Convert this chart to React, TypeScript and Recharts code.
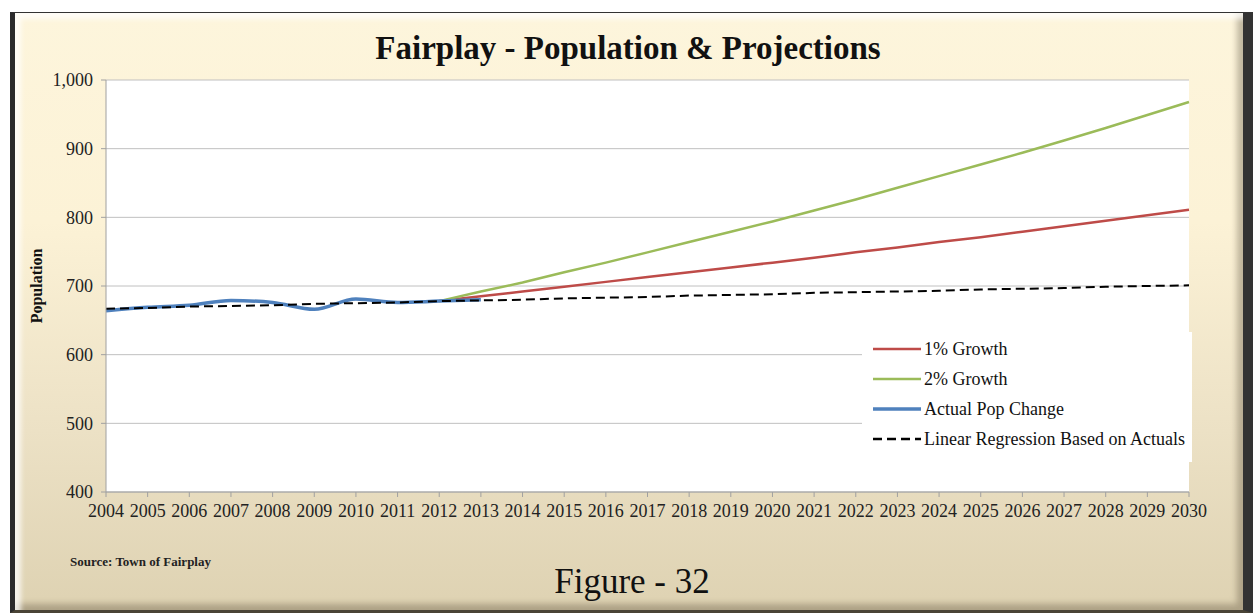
import React from 'react'
import { LineChart, Line, XAxis, YAxis, CartesianGrid } from 'recharts'

const years = [
  '2004', '2005', '2006', '2007', '2008', '2009', '2010', '2011', '2012', '2013',
  '2014', '2015', '2016', '2017', '2018', '2019', '2020', '2021', '2022', '2023',
  '2024', '2025', '2026', '2027', '2028', '2029', '2030',
]

// actual counts, 2004-2013
const actualPop = [664, 669, 672, 679, 676, 666, 681, 676, 678, 680]

// projections start from 2012
const growth1 = [678, 685, 692, 699, 706, 713, 720, 727, 734, 741, 749, 756, 764, 771, 779, 787, 795, 803, 811]
const growth2 = [678, 692, 705, 720, 734, 749, 764, 779, 794, 810, 826, 843, 860, 877, 894, 912, 930, 949, 968]

const regression = [
  667, 668, 670, 671, 672, 674, 675, 676, 678, 679, 680, 682, 683, 684,
  686, 687, 688, 690, 691, 692, 693, 695, 696, 697, 699, 700, 701,
]

const yTicks = [400, 500, 600, 700, 800, 900, 1000]

const projStart = years.indexOf('2012')

const data = years.map((year, i) => ({
  year,
  growth1: i >= projStart ? growth1[i - projStart] : null,
  growth2: i >= projStart ? growth2[i - projStart] : null,
  actual: i < actualPop.length ? actualPop[i] : null,
  regression: regression[i],
}))

const serif = '"Liberation Serif", "Times New Roman", serif'

const legendItems = [
  { label: '1% Growth', color: '#be4b48', dash: undefined, width: 2.5 },
  { label: '2% Growth', color: '#9bbb59', dash: undefined, width: 2.5 },
  { label: 'Actual Pop Change', color: '#4f81bd', dash: undefined, width: 3.5 },
  { label: 'Linear Regression Based on Actuals', color: '#000', dash: '9 5', width: 2.5 },
]

function LegendBox() {
  return (
    <div
      style={{
        position: 'absolute', left: 862, top: 332, width: 330, height: 130,
        background: '#fff', paddingTop: 2, fontFamily: serif, boxSizing: 'border-box',
      }}
    >
      {legendItems.map((it) => (
        <div key={it.label} style={{ display: 'flex', alignItems: 'center', height: 30 }}>
          <svg width={48} height={10} style={{ marginLeft: 11 }}>
            <line x1={0} y1={5} x2={48} y2={5} stroke={it.color} strokeWidth={it.width} strokeDasharray={it.dash} />
          </svg>
          <span style={{ fontSize: 18, color: '#111', marginLeft: 3 }}>{it.label}</span>
        </div>
      ))}
    </div>
  )
}

export default function App() {
  return (
    <div style={{ position: 'absolute', left: 0, top: 0, width: 1253, height: 616, background: '#fff', overflow: 'hidden' }}>
      <div
        style={{
          position: 'absolute',
          left: 10,
          top: 12,
          width: 1243,
          height: 601,
          boxSizing: 'border-box',
          borderTop: '1px solid #333',
          borderLeft: '5px solid #2b2b2b',
          borderRight: '10px solid #333',
          borderBottom: '3px solid #4a4436',
          background: 'linear-gradient(180deg, #fdf5dc 0%, #fcf2d6 35%, #ece1c5 70%, #ded2b2 100%)',
          boxShadow: 'inset 6px 6px 5px rgba(255,255,255,0.75), inset -6px -6px 6px rgba(80,70,50,0.35)',
        }}
      />
      <div
        style={{
          position: 'absolute', left: 0, top: 30, width: 1256, textAlign: 'center',
          fontFamily: serif, fontWeight: 'bold', fontSize: 33, color: '#111',
        }}
      >
        Fairplay - Population &amp; Projections
      </div>
      <div
        style={{
          position: 'absolute', left: 37, top: 286, transform: 'translate(-50%, -50%) rotate(-90deg)',
          fontFamily: serif, fontWeight: 'bold', fontSize: 16, color: '#111', whiteSpace: 'nowrap',
        }}
      >
        Population
      </div>
      <div style={{ position: 'absolute', left: 0, top: 0 }}>
        <LineChart width={1253} height={616} data={data} margin={{ top: 80, right: 64, left: 46, bottom: 94 }}>
          <CartesianGrid vertical={false} stroke="#c0c0c0" fill="#fff" />
          <XAxis
            dataKey="year"
            interval={0}
            height={30}
            tickSize={5}
            tickMargin={7}
            stroke="#a0a0a0"
            tick={{ fill: '#222', fontSize: 18, fontFamily: serif }}
          />
          <YAxis
            domain={[400, 1000]}
            ticks={yTicks}
            width={60}
            tickSize={5}
            tickMargin={8}
            stroke="#a0a0a0"
            tick={{ fill: '#222', fontSize: 18, fontFamily: serif }}
            tickFormatter={(v: number) => v.toLocaleString('en-US')}
          />
          <Line dataKey="growth1" stroke="#be4b48" strokeWidth={2.5} dot={false} isAnimationActive={false} />
          <Line dataKey="growth2" stroke="#9bbb59" strokeWidth={2.5} dot={false} isAnimationActive={false} />
          <Line type="monotone" dataKey="actual" stroke="#4f81bd" strokeWidth={3.5} dot={false} isAnimationActive={false} />
          <Line dataKey="regression" stroke="#000" strokeWidth={2} strokeDasharray="9 5" dot={false} isAnimationActive={false} />
        </LineChart>
      </div>
      <LegendBox />
      <div
        style={{
          position: 'absolute', left: 70, top: 554, fontFamily: serif, fontWeight: 'bold',
          fontSize: 13, color: '#222',
        }}
      >
        Source: Town of Fairplay
      </div>
      <div
        style={{
          position: 'absolute', left: 0, top: 562, width: 1264, textAlign: 'center',
          fontFamily: serif, fontSize: 35, color: '#111',
        }}
      >
        Figure - 32
      </div>
    </div>
  )
}
